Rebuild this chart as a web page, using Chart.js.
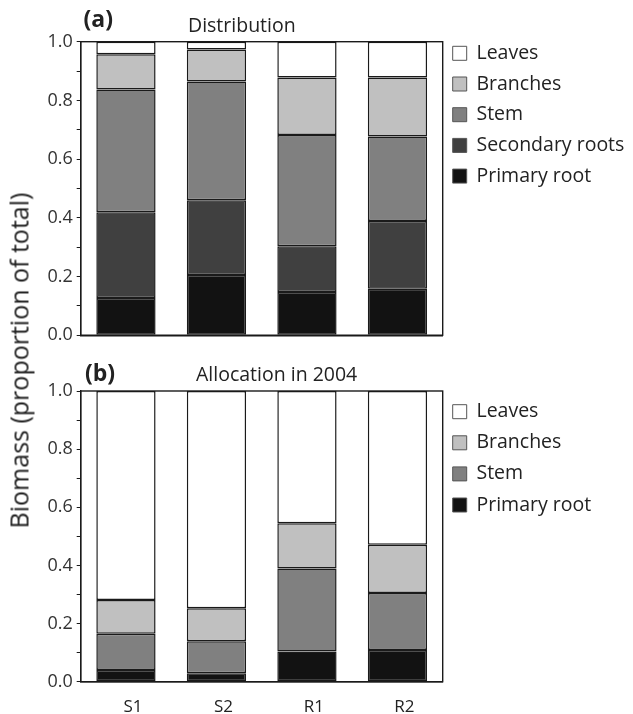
<!DOCTYPE html>
<html>
<head>
<meta charset="utf-8">
<script src="https://cdn.jsdelivr.net/npm/chart.js@4"></script>
<style>
  html, body { margin: 0; padding: 0; background: #fff; }
  #wrap { position: relative; width: 633px; height: 714px; overflow: hidden; font-family: "Open Sans", sans-serif; color: #222; }
  .box { position: absolute; left: 0; width: 633px; }
  .txt { position: absolute; white-space: nowrap; line-height: 1; }
  canvas { display: block; }
</style>
</head>
<body>
<div id="wrap">
  <div class="box" style="top:0;height:350px;"><canvas id="cA" width="633" height="350"></canvas></div>
  <div class="box" style="top:350px;height:364px;"><canvas id="cB" width="633" height="364"></canvas></div>
  <div class="txt" style="left:83.5px;top:7px;font-size:23px;font-weight:bold;">(a)</div>
  <div class="txt" style="left:188px;top:15px;font-size:19.5px;">Distribution</div>
  <div class="txt" style="left:85px;top:361px;font-size:23px;font-weight:bold;">(b)</div>
  <div class="txt" style="left:196px;top:364.4px;font-size:19.5px;">Allocation in 2004</div>
  <div class="txt" style="left:-181.2px;top:347.5px;width:400px;text-align:center;font-size:25px;transform:rotate(-90deg);transform-origin:50% 50%;">Biomass (proportion of total)</div>
</div>
<script>
// ---- data ----
const categories = ['S1', 'S2', 'R1', 'R2'];
const seriesNamesA = ['Primary root', 'Secondary roots', 'Stem', 'Branches', 'Leaves'];
const primaryRootA    = [0.127, 0.205, 0.147, 0.158];
const secondaryRootsA = [0.292, 0.255, 0.156, 0.231];
const stemA           = [0.418, 0.404, 0.379, 0.288];
const branchesA       = [0.120, 0.109, 0.196, 0.201];
const leavesA         = [0.043, 0.027, 0.122, 0.122];

const seriesNamesB = ['Primary root', 'Stem', 'Branches', 'Leaves'];
const primaryRootB = [0.040, 0.029, 0.104, 0.109];
const stemB        = [0.125, 0.110, 0.285, 0.196];
const branchesB    = [0.116, 0.114, 0.156, 0.166];
const leavesB      = [0.719, 0.747, 0.455, 0.529];

const yTickValues = [0, 0.2, 0.4, 0.6, 0.8, 1.0];

// ---- styles ----
const colors = { 'Primary root': '#121212', 'Secondary roots': '#404040', 'Stem': '#808080', 'Branches': '#c0c0c0', 'Leaves': '#ffffff' };
const FONT = '"Open Sans", sans-serif';
const LEG_SIZE = 19.5, LEG_PAD = 1.85, BOX = 14;
const PLOT_LEFT = 80.7, PLOT_RIGHT = 442.7, LEG_LEFT = 450.85, W = 633;

function measureMax(labels) {
  const c = document.createElement('canvas').getContext('2d');
  c.font = LEG_SIZE + 'px ' + FONT;
  return Math.max(...labels.map(t => c.measureText(t).width));
}
function legendRightPad(labels) {
  const target = W - LEG_LEFT;
  const natural = LEG_PAD + BOX + LEG_SIZE / 2 + measureMax(labels) + 10;
  return Math.max(0, target - natural);
}

const framePlugin = {
  id: 'frame',
  afterDatasetsDraw(chart) {
    const { ctx, chartArea: a } = chart;
    ctx.save();
    ctx.strokeStyle = '#1a1a1a';
    ctx.lineWidth = 1.4;
    ctx.strokeRect(a.left, a.top, a.right - a.left, a.bottom - a.top);
    ctx.restore();
  }
};

function makeDatasets(names, arrays) {
  return names.map((n, i) => ({
    label: n,
    data: arrays[i],
    backgroundColor: colors[n],
    borderColor: '#1a1a1a',
    borderWidth: 1.5,
    borderSkipped: false,
    categoryPercentage: 1.0,
    barPercentage: 0.655
  }));
}

function makeChart(id, names, arrays, opt) {
  const padR = legendRightPad(names);
  return new Chart(document.getElementById(id), {
    type: 'bar',
    data: { labels: categories, datasets: makeDatasets(names, arrays) },
    plugins: [framePlugin],
    options: {
      responsive: false,
      animation: false,
      devicePixelRatio: 1,
      layout: { padding: { top: opt.top, left: 0, right: padR, bottom: 0 } },
      plugins: {
        tooltip: { enabled: false },
        title: { display: false },
        legend: {
          display: true,
          position: 'right',
          align: 'start',
          reverse: true,
          fullSize: true,
          maxWidth: W - LEG_LEFT,
          title: { display: opt.legendTitleH > 0, text: ' ', font: { size: 7, lineHeight: opt.legendTitleH / 7 }, padding: 0 },
          labels: {
            boxWidth: BOX,
            boxHeight: BOX,
            padding: LEG_PAD,
            color: '#222',
            font: { family: FONT, size: LEG_SIZE, lineHeight: opt.legendLine / LEG_SIZE },
            generateLabels(chart) {
              return chart.data.datasets.map((ds, i) => ({
                text: [ds.label],
                fillStyle: ds.backgroundColor,
                strokeStyle: '#555',
                lineWidth: 1,
                hidden: false,
                datasetIndex: i,
                fontColor: '#222'
              }));
            }
          }
        }
      },
      scales: {
        x: {
          stacked: true,
          offset: true,
          grid: { display: false },
          border: { display: true, color: '#1a1a1a', width: 1.4 },
          ticks: {
            display: opt.showX,
            color: '#222',
            padding: 7,
            labelOffset: 7,
            font: { family: FONT, size: 17 }
          },
          afterFit(s) { s.height = opt.xHeight; }
        },
        y: {
          stacked: true,
          min: 0,
          max: 1,
          grid: { display: true, drawOnChartArea: false, drawTicks: true, tickLength: 4, color: '#1a1a1a', lineWidth: 1 },
          border: { display: true, color: '#1a1a1a', width: 1.4 },
          ticks: {
            stepSize: 0.1,
            padding: 4,
            color: '#333',
            font: { family: FONT, size: 18 },
            callback(v) {
              const hit = yTickValues.find(t => Math.abs(t - v) < 1e-6);
              return hit !== undefined ? hit.toFixed(1) : '';
            }
          },
          afterFit(s) { s.width = PLOT_LEFT; }
        },
        y2: {
          position: 'right',
          display: true,
          grid: { display: false },
          border: { display: false },
          ticks: { display: false },
          afterFit(s) { s.width = LEG_LEFT - PLOT_RIGHT; }
        }
      }
    }
  });
}

makeChart('cA', seriesNamesA, [primaryRootA, secondaryRootsA, stemA, branchesA, leavesA],
  { top: 41.7, xHeight: 350 - 335.5, showX: false, legendTitleH: 0, legendLine: 28.85 });
makeChart('cB', seriesNamesB, [primaryRootB, stemB, branchesB, leavesB],
  { top: 41, xHeight: 364 - 331.7, showX: true, legendTitleH: 9.1, legendLine: 29.25 });
</script>
</body>
</html>
